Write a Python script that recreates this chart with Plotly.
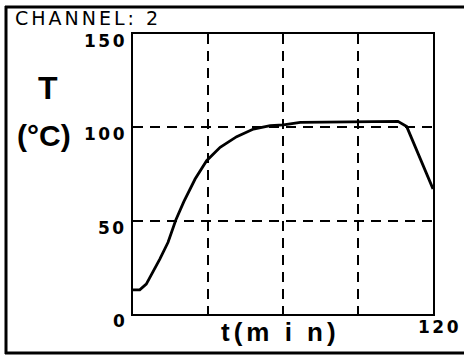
import plotly.graph_objects as go

# Data
t_min = [0, 2.9, 5.5, 8.2, 10.9, 14.2, 17.3, 20.5, 25, 29.6, 35, 41.6, 48.3, 55, 60.3, 67, 106, 109.5, 120]
temp_c = [12.9, 12.9, 16, 22.3, 29.4, 38.4, 50.4, 60.2, 72.3, 82.1, 89.3, 95, 99.1, 100.9, 101.3, 102.7, 103.2, 100.4, 67]

x_grid = [30, 60, 90]
y_grid = [50, 100]
y_tick_labels = ["150", "100", "50", "0"]
y_tick_values = [150, 100, 50, 0]
x_tick_labels = ["120"]

W, H = 464, 357
def px(x):
    return x / W
def py(y):
    return 1 - y / H

fig = go.Figure()
fig.add_trace(go.Scatter(x=t_min, y=temp_c, mode="lines",
                         line=dict(color="black", width=2.8),
                         hoverinfo="skip", showlegend=False))

fig.update_layout(
    width=W, height=H,
    margin=dict(l=0, r=0, t=0, b=0),
    paper_bgcolor="white", plot_bgcolor="white",
    xaxis=dict(domain=[px(132.5), px(433)], range=[0, 120],
               tickvals=x_grid, showticklabels=False, ticks="",
               showgrid=True, gridcolor="black", gridwidth=1.6, griddash="10px,7px",
               showline=True, linecolor="black", linewidth=1.6, mirror=True,
               zeroline=False, fixedrange=True),
    yaxis=dict(domain=[py(314), py(34)], range=[0, 150],
               tickvals=y_grid, showticklabels=False, ticks="",
               showgrid=True, gridcolor="black", gridwidth=1.6, griddash="10px,7px",
               showline=True, linecolor="black", linewidth=1.6, mirror=True,
               zeroline=False, fixedrange=True),
)

num_font = dict(family="DejaVu Sans", size=17, color="black", weight="bold")
ls = "letter-spacing:2.5px"

annots = []
# y tick labels (slightly below their values, as in the original)
for lab, val in zip(y_tick_labels, y_tick_values):
    annots.append(dict(x=px(129), xref="paper", xanchor="right",
                       y=val, yref="y", yanchor="middle", yshift=-7,
                       text=f'<span style="{ls}">{lab}</span>', showarrow=False, font=num_font))
annots.append(dict(x=px(463), xref="paper", xanchor="right",
                   y=py(327), yref="paper", yanchor="middle",
                   text=f'<span style="{ls}">{x_tick_labels[0]}</span>', showarrow=False, font=num_font))
# Title / axis labels
annots.append(dict(x=px(13), xref="paper", xanchor="left", y=py(18), yref="paper", yanchor="middle",
                   text='<span style="letter-spacing:3px">CHANNEL: 2</span>', showarrow=False,
                   font=dict(family="DejaVu Sans", size=19, color="black")))
annots.append(dict(x=px(48), xref="paper", xanchor="center", y=py(88), yref="paper", yanchor="middle",
                   text="T", showarrow=False,
                   font=dict(family="Liberation Sans", size=32, color="black", weight="bold")))
annots.append(dict(x=px(44), xref="paper", xanchor="center", y=py(135), yref="paper", yanchor="middle",
                   text="(°C)", showarrow=False,
                   font=dict(family="Liberation Sans", size=30, color="black", weight="bold")))
annots.append(dict(x=px(280), xref="paper", xanchor="center", y=py(332), yref="paper", yanchor="middle",
                   text='<span style="letter-spacing:4px">t(m i n)</span>', showarrow=False,
                   font=dict(family="Liberation Sans", size=26, color="black", weight="bold")))
fig.update_layout(annotations=annots)

# Outer frame (top, left, bottom)
frame = dict(type="line", xref="paper", yref="paper", line=dict(color="black", width=3))
fig.update_layout(shapes=[
    dict(frame, x0=px(5), x1=px(464), y0=py(7), y1=py(7)),
    dict(frame, x0=px(6), x1=px(6), y0=py(6), y1=py(354)),
    dict(frame, x0=px(5), x1=px(464), y0=py(353), y1=py(353)),
])

fig.write_html("out.html", config={"displayModeBar": False})
